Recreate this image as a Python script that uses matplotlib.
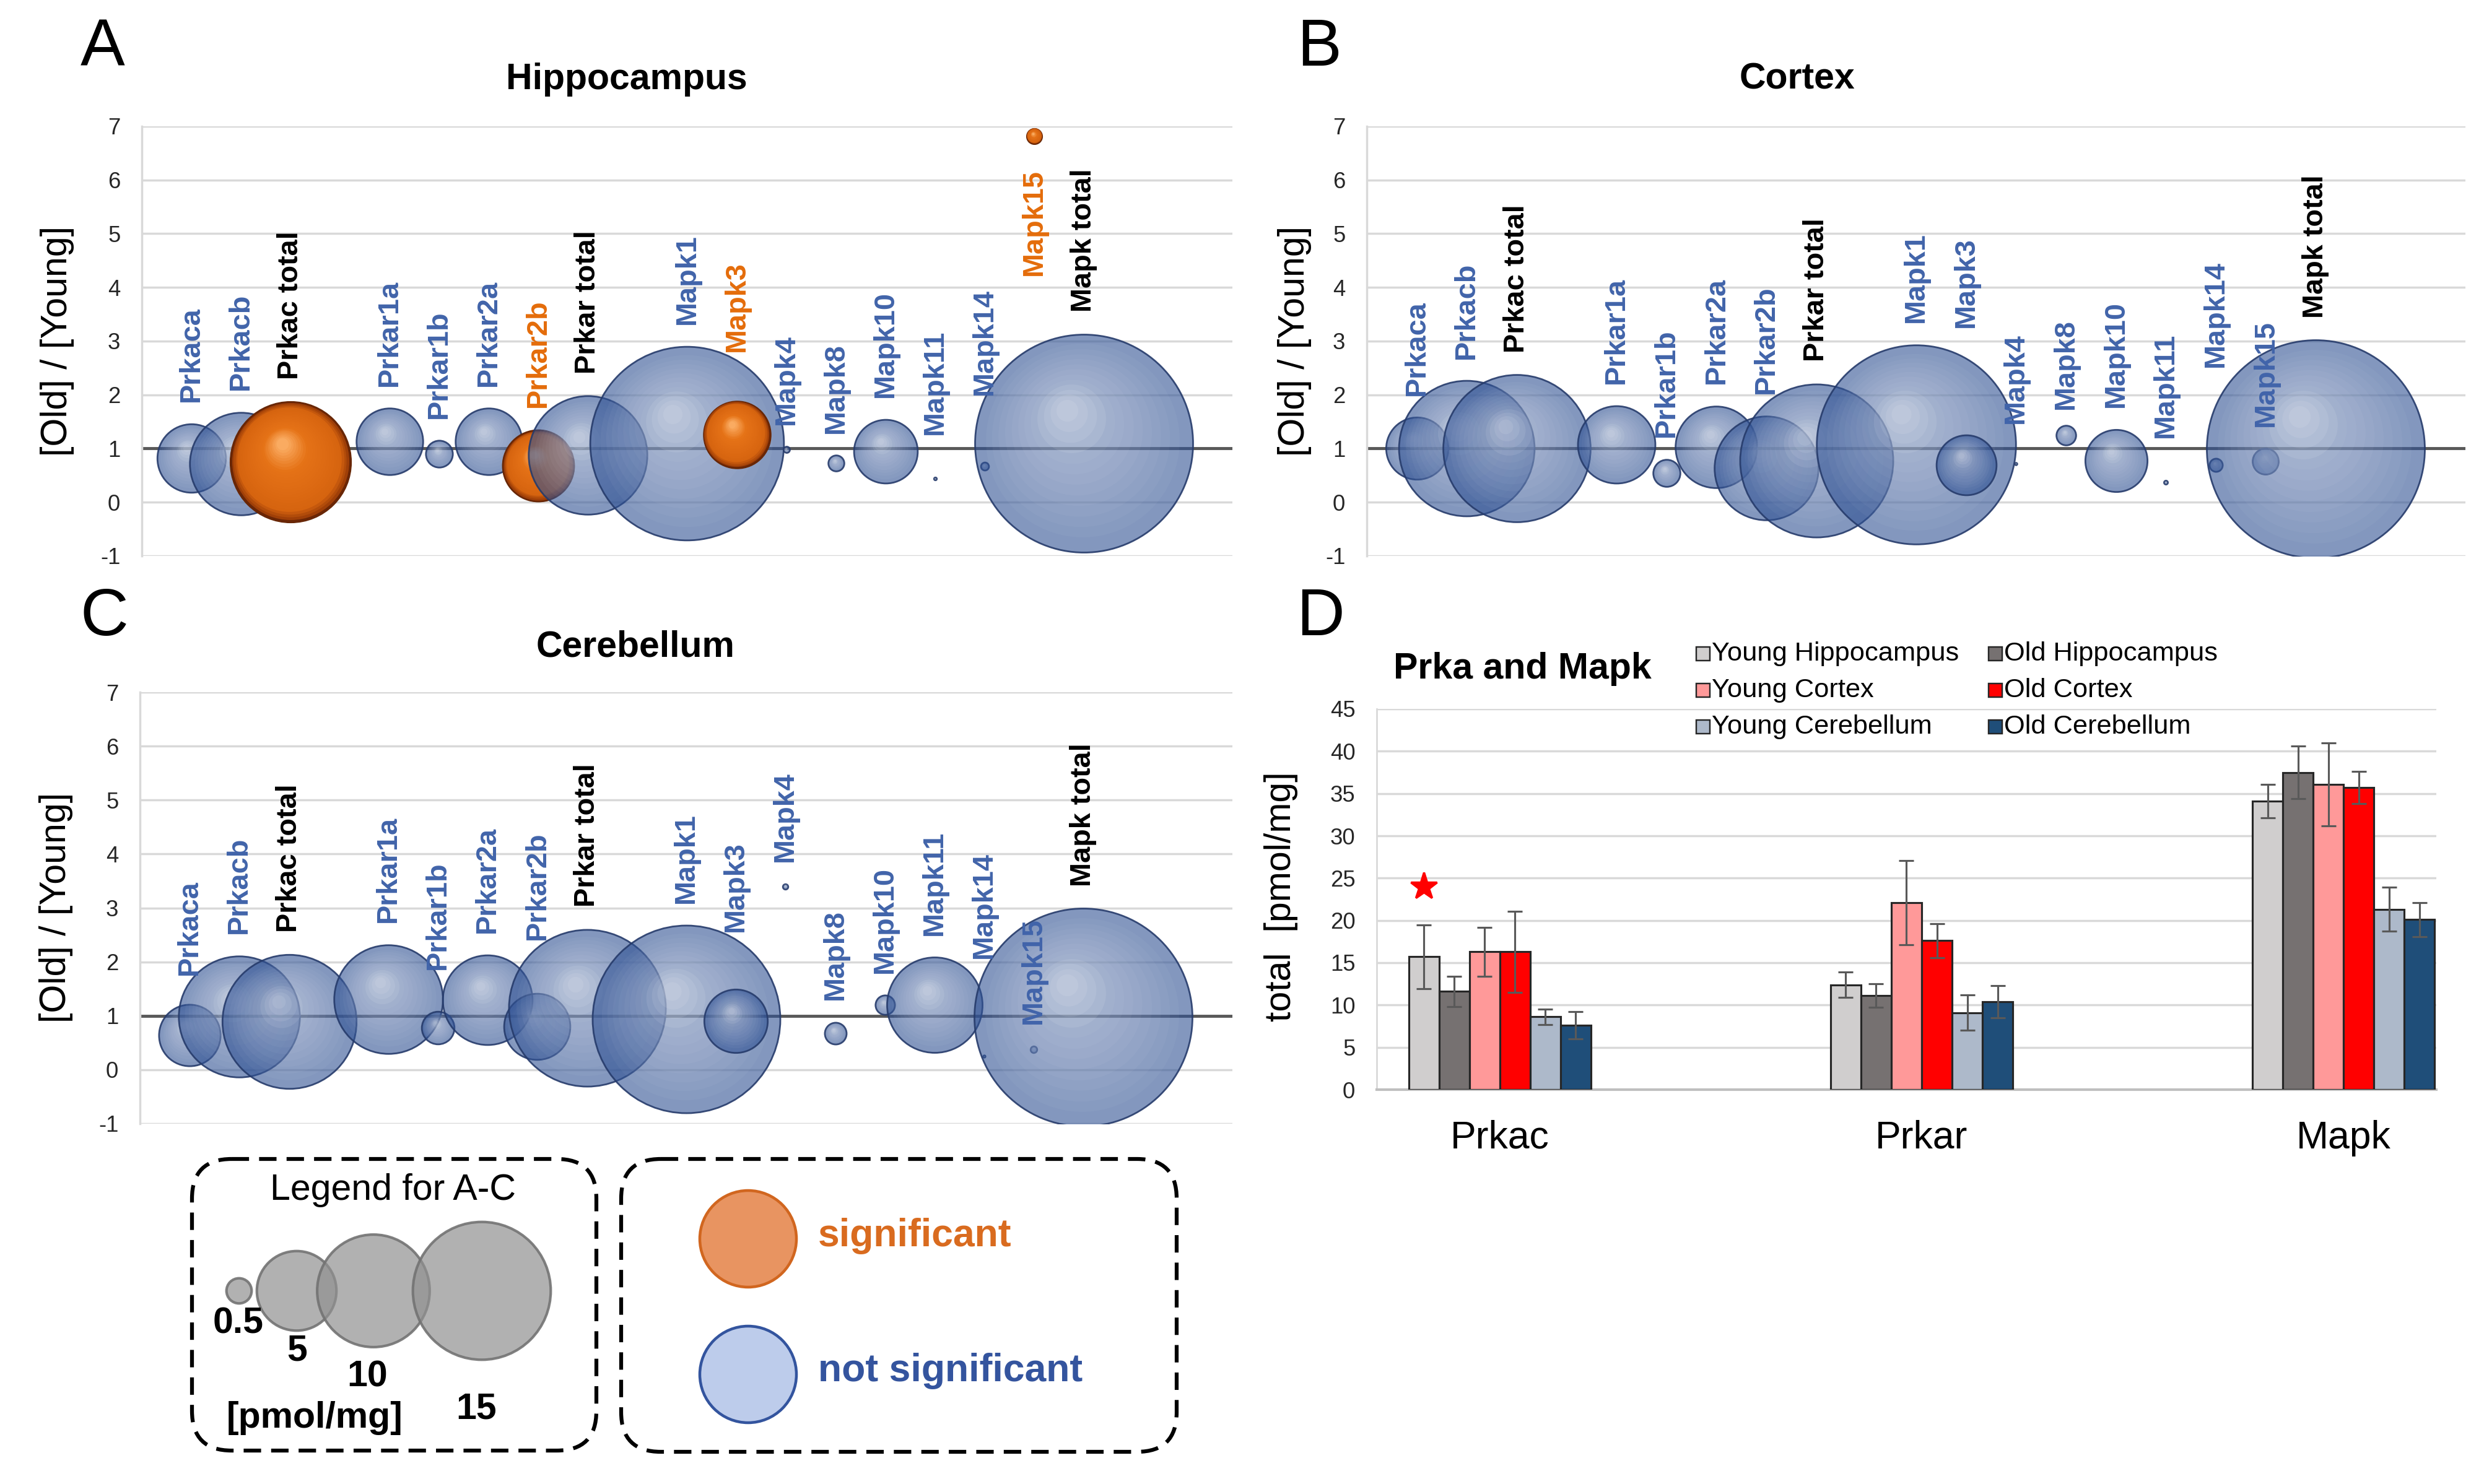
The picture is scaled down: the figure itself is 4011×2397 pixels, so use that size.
import numpy as np
import matplotlib

matplotlib.use("Agg")
import matplotlib.pyplot as plt
from matplotlib.patches import FancyBboxPatch, Rectangle, Circle

plt.rcParams["font.family"] = ["Liberation Sans", "DejaVu Sans"]
plt.rcParams["axes.unicode_minus"] = False

W, H, DPI = 4012, 2397, 250

# ---- bubble charts A-C: old/young ratio, bubble size = old level [pmol/mg]
genes = ["Prkaca", "Prkacb", "Prkac total", "Prkar1a", "Prkar1b", "Prkar2a", "Prkar2b",
         "Prkar total", "Mapk1", "Mapk3", "Mapk4", "Mapk8", "Mapk10", "Mapk11", "Mapk14",
         "Mapk15", "Mapk total"]
gene_x = [1, 2, 3, 5, 6, 7, 8, 9, 11, 12, 13, 14, 15, 16, 17, 18, 19]

hip_ratio = [0.82, 0.72, 0.75, 1.13, 0.90, 1.13, 0.68, 0.88, 1.10, 1.26, 0.98, 0.73, 0.95,
             0.44, 0.67, 6.82, 1.10]
hip_size = [3.7, 8.3, 11.6, 3.5, 0.57, 3.5, 4.1, 11.1, 29.6, 3.6, 0.03, 0.2, 3.2, 0.006,
            0.05, 0.2, 37.5]
hip_sig = ["Prkac total", "Prkar2b", "Mapk3", "Mapk15"]

ctx_ratio = [1.00, 1.00, 1.00, 1.07, 0.55, 1.03, 0.64, 0.78, 1.08, 0.70, 0.72, 1.25, 0.78,
             0.37, 0.69, 0.76, 0.99]
ctx_size = [2.9, 13.8, 16.3, 4.5, 0.55, 5.0, 8.1, 17.6, 29.8, 2.7, 0.004, 0.29, 2.9, 0.011,
            0.13, 0.51, 35.7]
ctx_sig = []

cer_ratio = [0.64, 0.99, 0.89, 1.31, 0.78, 1.30, 0.80, 1.15, 0.94, 0.91, 3.40, 0.68, 1.20,
             1.20, 0.25, 0.38, 0.97]
cer_size = [1.6, 6.2, 7.6, 5.0, 0.45, 3.4, 1.85, 10.4, 14.9, 1.7, 0.012, 0.2, 0.16, 3.85,
            0.002, 0.018, 20.1]
cer_sig = []

# ---- panel D: total levels [pmol/mg], mean and error
groups = ["Prkac", "Prkar", "Mapk"]
series = ["Young Hippocampus", "Old Hippocampus", "Young Cortex", "Old Cortex",
          "Young Cerebellum", "Old Cerebellum"]
young_hip = [15.7, 12.4, 34.1]
young_hip_err = [3.8, 1.5, 2.0]
old_hip = [11.6, 11.1, 37.5]
old_hip_err = [1.8, 1.4, 3.1]
young_ctx = [16.3, 22.1, 36.1]
young_ctx_err = [2.9, 5.0, 4.9]
old_ctx = [16.3, 17.6, 35.7]
old_ctx_err = [4.8, 2.0, 1.9]
young_cer = [8.6, 9.1, 21.3]
young_cer_err = [0.9, 2.1, 2.6]
old_cer = [7.6, 10.4, 20.1]
old_cer_err = [1.6, 1.9, 2.0]
star_y = 24

legend_sizes = [0.5, 5, 10, 15]

# ---- layout helpers (pixels of the output image)
BLUE_TXT = "#4164AA"
ORANGE_TXT = "#E46C0A"
DMAX = 352  # px diameter of the largest bubble in a chart
LABEL_GAP = 0.41


def px_rect(l, t, r, b):
    return [l / W, 1 - b / H, (r - l) / W, (b - t) / H]


def fx(x):
    return x / W


def fy(y):
    return 1 - y / H


fig = plt.figure(figsize=(W / DPI, H / DPI), dpi=DPI)
PT = 72 / DPI


def bubble_axes(rect):
    ax = fig.add_axes(px_rect(*rect))
    ax.set_xlim(0, 22)
    ax.set_ylim(-1, 7)
    ax.set_yticks(range(-1, 8))
    ax.set_xticks([])
    ax.grid(axis="y", color="#D9D9D9", lw=1.0, zorder=0)
    ax.set_axisbelow(True)
    for s in ["top", "right", "bottom"]:
        ax.spines[s].set_visible(False)
    ax.spines["left"].set_color("#D9D9D9")
    ax.spines["left"].set_linewidth(1.0)
    ax.axhline(1, color="#595959", lw=1.4, zorder=1)
    ax.tick_params(axis="y", length=0, pad=10, labelsize=10.5, labelcolor="#262626")
    return ax


def blend(c1, c2, t):
    return tuple(a + (b - a) * t for a, b in zip(c1, c2))


def orange_color(t):
    if t < 0.15:
        return blend((0.55, 0.20, 0.02), (0.84, 0.39, 0.06), t / 0.15)
    if t < 0.7:
        return blend((0.84, 0.39, 0.06), (0.90, 0.45, 0.09), (t - 0.15) / 0.55)
    return blend((0.90, 0.45, 0.09), (0.98, 0.67, 0.38), (t - 0.7) / 0.3)


def draw_bubbles(ax, ratio, size, sig, gaps):
    smax = max(size)
    p0 = ax.transData.transform((0, 0))
    p1 = ax.transData.transform((1, 1))
    ppx, ppy = p1[0] - p0[0], p1[1] - p0[1]
    for i, (g, x, y, s) in enumerate(zip(genes, gene_x, ratio, size)):
        d = DMAX * np.sqrt(s / smax)
        r = d / 2
        z = 3 + i * 0.01
        if g in sig:
            ax.scatter([x], [y], s=(d * PT) ** 2, color=(0.42, 0.15, 0.02),
                       edgecolors=(0.40, 0.15, 0.02), linewidths=0.4, zorder=z)
            n = 26
            for k in range(1, n + 1):
                t = k / n
                rk = r * (1 - 0.9 * t)
                ax.scatter([x - 0.13 * r * t / ppx], [y + 0.30 * r * t / ppy],
                           s=(2 * rk * PT) ** 2, color=orange_color(t), linewidths=0,
                           zorder=z)
        else:
            ax.scatter([x], [y], s=(d * PT) ** 2, color=(0.19, 0.32, 0.58, 0.60),
                       edgecolors=(0.15, 0.23, 0.42, 0.9), linewidths=0.8, zorder=z)
            n = 12
            for k in range(1, n + 1):
                t = k / n
                rk = r * (0.96 - 0.86 * t)
                a = 0.04 if k <= n - 4 else 0.09
                ax.scatter([x - 0.15 * r * t / ppx], [y + 0.30 * r * t / ppy],
                           s=(2 * rk * PT) ** 2, color=(1, 1, 1, a), linewidths=0,
                           zorder=z)
        # data label
        if g.endswith("total"):
            col = "black"
        elif g in sig:
            col = ORANGE_TXT
        else:
            col = BLUE_TXT
        gap = gaps.get(g, LABEL_GAP)
        if gap >= 0:
            ax.text(x, y + r / ppy + gap, g, rotation=90, ha="center", va="bottom",
                    color=col, fontsize=13.5, fontweight="bold", zorder=10)
        else:
            ax.text(x, y - r / ppy + gap, g, rotation=90, ha="center", va="top",
                    color=col, fontsize=13.5, fontweight="bold", zorder=10)


hip_gaps = {"Mapk3": 0.91, "Mapk11": 0.79, "Mapk14": 1.25, "Mapk15": -0.47}
ctx_gaps = {"Mapk3": 2.0, "Mapk4": 0.73, "Mapk8": 0.3, "Mapk11": 0.8, "Mapk14": 1.7}
cer_gaps = {"Prkaca": 0.55, "Prkar1b": 0.78, "Prkar2b": 1.0, "Mapk3": 1.06, "Mapk14": 1.8}

ax_a = bubble_axes((229, 204, 1990, 898))
draw_bubbles(ax_a, hip_ratio, hip_size, hip_sig, hip_gaps)
ax_b = bubble_axes((2207, 204, 3981, 898))
draw_bubbles(ax_b, ctx_ratio, ctx_size, ctx_sig, ctx_gaps)
ax_c = bubble_axes((226, 1118, 1990, 1815))
draw_bubbles(ax_c, cer_ratio, cer_size, cer_sig, cer_gaps)

# ---- panel D bars
axd = fig.add_axes(px_rect(2223, 1145, 3934, 1760))
axd.set_ylim(0, 45)
axd.set_xlim(-0.292, 2.22)
bw = 0.072
bar_data = [
    (young_hip, young_hip_err, "#D0CECE"),
    (old_hip, old_hip_err, "#767171"),
    (young_ctx, young_ctx_err, "#FF9999"),
    (old_ctx, old_ctx_err, "#FF0000"),
    (young_cer, young_cer_err, "#ADB9CA"),
    (old_cer, old_cer_err, "#1F4E79"),
]
xg = np.arange(len(groups))
for j, (vals, errs, col) in enumerate(bar_data):
    axd.bar(xg + (j - 2.5) * bw, vals, bw, color=col, edgecolor="#262626", lw=0.9,
            yerr=errs, zorder=3,
            error_kw=dict(ecolor="#595959", elinewidth=0.9, capsize=3.5, capthick=0.9,
                          zorder=4))
axd.plot([xg[0] - 2.5 * bw], [star_y], marker="*", color="red", ms=13, ls="none",
         zorder=5)
axd.set_yticks(range(0, 46, 5))
axd.set_xticks(xg)
axd.set_xticklabels(groups, fontsize=18)
axd.grid(axis="y", color="#D9D9D9", lw=1.0, zorder=0)
axd.set_axisbelow(True)
for s in ["top", "right"]:
    axd.spines[s].set_visible(False)
axd.spines["left"].set_color("#D9D9D9")
axd.spines["bottom"].set_color("#BFBFBF")
axd.spines["bottom"].set_linewidth(1.2)
axd.tick_params(axis="y", length=0, pad=10, labelsize=10.5, labelcolor="#262626")
axd.tick_params(axis="x", length=0, pad=14)

# D legend, two columns x three rows
for j, (vals, errs, col) in enumerate(bar_data):
    cx = [2750, 3222][j % 2]
    cy = [1056, 1115, 1174][j // 2]
    fig.patches.append(Rectangle((fx(cx - 11), fy(cy + 11)), 22 / W, 22 / H,
                                 transform=fig.transFigure, facecolor=col,
                                 edgecolor="#262626", lw=0.7))
    fig.text(fx(cx + 14), fy(cy), series[j], ha="left", va="center", fontsize=12.5)

# ---- titles, panel letters, axis labels
for txt, x, y in [("A", 166, 78), ("B", 2130, 78), ("C", 168, 998), ("D", 2132, 998)]:
    fig.text(fx(x), fy(y), txt, ha="center", va="center", fontsize=31)
for txt, x, y in [("Hippocampus", 1012, 128), ("Cortex", 2902, 128),
                  ("Cerebellum", 1026, 1045), ("Prka and Mapk", 2458, 1080)]:
    fig.text(fx(x), fy(y), txt, ha="center", va="center", fontsize=17, fontweight="bold")
for x, y in [(93, 551), (2090, 551), (91, 1466)]:
    fig.text(fx(x), fy(y), "[Old] / [Young]", rotation=90, ha="center", va="center",
             fontsize=17)
fig.text(fx(2068), fy(1448), "total  [pmol/mg]", rotation=90, ha="center", va="center",
         fontsize=17)

# ---- legend boxes for A-C
lax = fig.add_axes([0, 0, 1, 1])
lax.set_xlim(0, W)
lax.set_ylim(H, 0)
lax.axis("off")
for (l, t, r, b) in [(310, 1872, 963, 2343), (1003, 1872, 1900, 2345)]:
    lax.add_patch(FancyBboxPatch((l, t), r - l, b - t,
                                 boxstyle="round,pad=0,rounding_size=64",
                                 facecolor="none", edgecolor="black", lw=1.8,
                                 linestyle=(0, (4.5, 2.6))))
lax.text(635, 1922, "Legend for A-C", ha="center", va="center", fontsize=17)
legend_ref = max(hip_size)
for v, cx in zip(legend_sizes, [386, 479, 603, 778]):
    rad = DMAX * np.sqrt(v / legend_ref) / 2
    lax.add_patch(Circle((cx, 2085), rad, facecolor=(0.57, 0.57, 0.57, 0.7),
                         edgecolor=(0.45, 0.45, 0.45, 0.9), lw=1.2))
for txt, x, y in [("0.5", 385, 2138), ("5", 480, 2182), ("10", 593, 2224),
                  ("15", 769, 2276), ("[pmol/mg]", 508, 2290)]:
    lax.text(x, y, txt, ha="center", va="center", fontsize=17, fontweight="bold")

lax.add_patch(Circle((1208, 2001), 78, facecolor=(0.91, 0.58, 0.38),
                     edgecolor=(0.82, 0.40, 0.12), lw=1.3))
lax.add_patch(Circle((1208, 2220), 78, facecolor=(0.74, 0.80, 0.92),
                     edgecolor=(0.20, 0.33, 0.62), lw=1.3))
lax.text(1321, 1997, "significant", ha="left", va="center", fontsize=18,
         fontweight="bold", color="#D96B1F")
lax.text(1321, 2215, "not significant", ha="left", va="center", fontsize=18,
         fontweight="bold", color="#34549E")

fig.savefig("out.png", dpi=DPI)
